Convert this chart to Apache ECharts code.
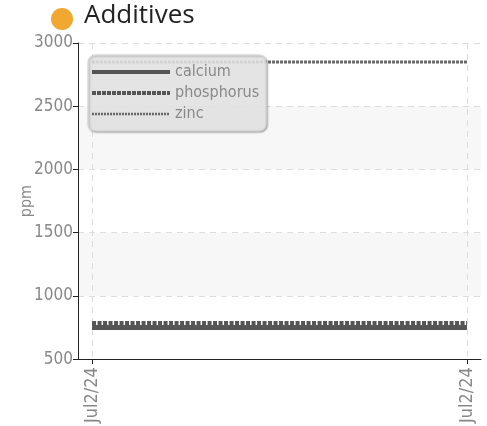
<!DOCTYPE html>
<html><head><meta charset="utf-8">
<script src="https://cdn.jsdelivr.net/npm/echarts@6/dist/echarts.min.js"></script>
<style>html,body{margin:0;padding:0;background:#fff}#c{width:487px;height:426px}</style>
</head><body><div id="c"></div>
<script>
const xLabels = ['Jul2/24', 'Jul2/24'];
const xPos = [0, 1];
const calcium = [750, 750];
const phosphorus = [785, 785];
const zinc = [2850, 2850];
const seriesNames = ['calcium', 'phosphorus', 'zinc'];

const chart = echarts.init(document.getElementById('c'));
const font = "'DejaVu Sans Condensed', 'Roboto', sans-serif";
function pts(arr){ return arr.map((v,i)=>[xPos[i], v]); }
const styles = [
  {color:'#555', width:5, type:'solid'},
  {color:'#555', width:4, type:[4,1.5]},
  {color:'#666', width:3, type:[3,1]}
];
const legendLines = [
  {width:4, type:'solid'},
  {width:4, type:[4,1]},
  {width:2.5, type:[2,1]}
];
const data = [calcium, phosphorus, zinc];
chart.setOption({
  animation: false,
  graphic: [
    {type:'circle', shape:{cx:62, cy:19, r:11}, style:{fill:'#f0a830'}},
    {type:'text', left:84, top:3, style:{text:'Additives', fontSize:26, fill:'#222', fontFamily:"'Open Sans', sans-serif"}}
  ],
  grid: {left:78, right:6, top:43, bottom:65},
  legend: {
    orient:'vertical', left:88, top:55, padding:[9,7,9,2], itemGap:5,
    itemWidth:78, itemHeight:16,
    backgroundColor:'rgba(236,236,236,0.85)', borderColor:'#d4d4d4', borderWidth:1, borderRadius:7,
    shadowColor:'rgba(0,0,0,0.35)', shadowBlur:2, shadowOffsetX:1, shadowOffsetY:1,
    textStyle:{color:'#888', fontSize:16, fontFamily:font},
    itemStyle:{opacity:0},
    data: seriesNames.map((n,i)=>({name:n, lineStyle:{width:legendLines[i].width, type:legendLines[i].type, color:styles[i].color}}))
  },
  xAxis: {
    type:'value', min:-0.0375, max:1.0375,
    axisLine:{show:true, onZero:false, lineStyle:{color:'#222'}},
    axisTick:{show:true, customValues:xPos, length:5, lineStyle:{color:'#222'}},
    axisLabel:{customValues:xPos, rotate:90, color:'#888', fontSize:18, fontFamily:font, margin:8,
      formatter:(v)=> xLabels[xPos.indexOf(v)] || ''},
    splitLine:{show:true, lineStyle:{type:[6,5], color:'#ddd'}}
  },
  yAxis: {
    type:'value', min:500, max:3000, interval:500,
    name:'ppm', nameLocation:'middle', nameGap:43, nameRotate:90, nameMoveOverlap:false,
    nameTextStyle:{color:'#888', fontSize:16, fontFamily:font},
    axisLine:{show:true, onZero:false, lineStyle:{color:'#222'}},
    axisTick:{show:true, length:5, lineStyle:{color:'#222'}},
    axisLabel:{color:'#888', fontSize:17, fontFamily:font, margin:5, formatter:(v)=>String(v)},
    splitLine:{show:true, lineStyle:{type:[6,5], color:'#ddd'}},
    splitArea:{show:true, areaStyle:{color:['#ffffff','#f7f7f7']}}
  },
  series: seriesNames.map((n,i)=>({
    name:n, type:'line', data:pts(data[i]), symbol:'none',
    lineStyle:{color:styles[i].color, width:styles[i].width, type:styles[i].type},
    itemStyle:{color:styles[i].color}
  }))
});
</script></body></html>
